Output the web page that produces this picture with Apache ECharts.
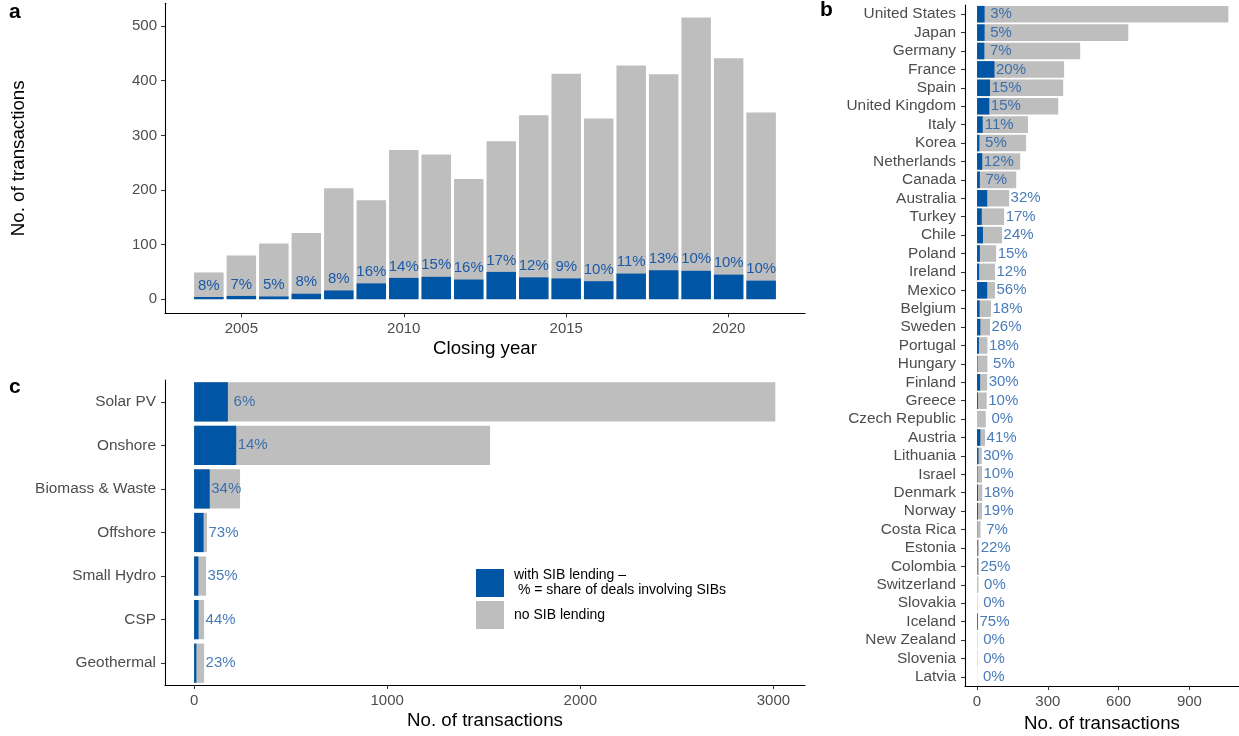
<!DOCTYPE html>
<html>
<head>
<meta charset="utf-8">
<script src="https://cdn.jsdelivr.net/npm/echarts@6/dist/echarts.min.js"></script>
<style>
html,body{margin:0;padding:0;background:#fff}
#main{width:1239px;height:736px}
</style>
</head>
<body>
<div id="main"></div>
<script>
// panel a - transactions per closing year
var years = [2004,2005,2006,2007,2008,2009,2010,2011,2012,2013,2014,2015,2016,2017,2018,2019,2020,2021];
var yearTotal = [49,80,102,121,203,181,273,265,220,289,337,413,331,428,412,516,441,342];
var yearSib = [4,6,5,10,16,29,39,41,36,50,40,38,33,47,53,52,45,34];
var yearPct = [8,7,5,8,8,16,14,15,16,17,12,9,10,11,13,10,10,10];
var yearTicks = [2005,2010,2015,2020];
var yearCountTicks = [0,100,200,300,400,500];

// panel b - by country
var countries = ['United States','Japan','Germany','France','Spain','United Kingdom','Italy','Korea','Netherlands','Canada',
	'Australia','Turkey','Chile','Poland','Ireland','Mexico','Belgium','Sweden','Portugal','Hungary','Finland','Greece',
	'Czech Republic','Austria','Lithuania','Israel','Denmark','Norway','Costa Rica','Estonia','Colombia','Switzerland',
	'Slovakia','Iceland','New Zealand','Slovenia','Latvia'];
var countryTotal = [1065,641,437,369,365,344,216,208,183,166,136,115,106,81,76,76,59,55,44,44,43,41,37,34,20,21,22,21,15,9,8,6,2,4,2,2,1];
var countrySib = [32,32,31,74,55,52,24,10,22,12,43,20,25,12,9,43,11,14,8,2,13,4,0,14,6,2,4,4,1,2,2,0,0,3,0,0,0];
var countryPct = [3,5,7,20,15,15,11,5,12,7,32,17,24,15,12,56,18,26,18,5,30,10,0,41,30,10,18,19,7,22,25,0,0,75,0,0,0];
var countryTicks = [0,300,600,900];

// panel c - by technology
var techs = ['Solar PV','Onshore','Biomass & Waste','Offshore','Small Hydro','CSP','Geothermal'];
var techTotal = [3010,1533,238,67,62,52,52];
var techSib = [175,218,81,49,22,23,12];
var techPct = [6,14,34,73,35,44,23];
var techTicks = [0,1000,2000,3000];

var SIB = 'with SIB lending \u2013\n % = share of deals involving SIBs';
var NOSIB = 'no SIB lending';
var BLUE = '#0055a5', GREY = '#bebebe', TXTBLUE = '#1a5aa8', AXGREY = '#4d4d4d';
var FONT = '"Liberation Sans", Arial, Helvetica, sans-serif';

// label sits after the blue part when the bar is long, otherwise after the whole bar
function labelAnchor(total, sib){
	return total >= 150 ? sib : total;
}

function plain(v){ return String(v); }

function valAxis(grid, min, max, ticks, extra){
	var ax = {
		gridIndex: grid,
		type: 'value',
		min: min,
		max: max,
		splitLine: {show: false},
		axisLine: {show: true, onZero: false, lineStyle: {color: '#000', width: 1.1}},
		axisTick: {show: true, length: 4, customValues: ticks, lineStyle: {color: '#333'}},
		axisLabel: {customValues: ticks, formatter: plain, color: AXGREY, fontSize: 15, fontFamily: FONT}
	};
	for (var k in extra) ax[k] = extra[k];
	return ax;
}

function catAxis(grid, cats){
	return {
		gridIndex: grid,
		type: 'category',
		inverse: true,
		data: cats,
		axisLine: {show: true, onZero: false, lineStyle: {color: '#000', width: 1.1}},
		axisTick: {show: true, length: 4, alignWithLabel: true, lineStyle: {color: '#333'}},
		axisLabel: {color: AXGREY, fontSize: 15.4, fontFamily: FONT, margin: 9, interval: 0},
		splitLine: {show: false}
	};
}

var titleStyle = {color: '#000', fontSize: 18.7, fontFamily: FONT};

var pctLabel = {show: true, color: TXTBLUE, fontSize: 15, fontFamily: FONT};

var myChart = echarts.init(document.getElementById('main'));

option = {
	animation: false,
	textStyle: {fontFamily: FONT},
	grid: [
		{left: 165, top: 3.3, width: 640, height: 310, outerBoundsMode: 'none'},
		{left: 965, top: 5, right: 0, height: 681, outerBoundsMode: 'none'},
		{left: 165, top: 380, width: 640, height: 305, outerBoundsMode: 'none'}
	],
	legend: {
		data: [SIB, NOSIB],
		orient: 'vertical',
		left: 471,
		top: 562,
		icon: 'rect',
		itemWidth: 28,
		itemHeight: 28,
		itemGap: 2,
		selectedMode: false,
		textStyle: {fontSize: 14, color: '#000', lineHeight: 15, fontFamily: FONT, padding: [2, 0, 0, 5]}
	},
	graphic: [
		{type: 'text', left: 9, top: 2, style: {text: 'a', font: 'bold 21px ' + FONT, fill: '#000'}},
		{type: 'text', left: 820, top: 0, style: {text: 'b', font: 'bold 21px ' + FONT, fill: '#000'}},
		{type: 'text', left: 9, top: 377, style: {text: 'c', font: 'bold 21px ' + FONT, fill: '#000'}}
	],
	xAxis: [
		valAxis(0, 2002.65, 2022.35, yearTicks, {
			name: 'Closing year', nameLocation: 'middle', nameGap: 26, nameTextStyle: titleStyle
		}),
		valAxis(1, -51, 1110, countryTicks, {
			name: 'No. of transactions', nameLocation: 'middle', nameGap: 26, nameTextStyle: titleStyle
		}),
		valAxis(2, -150.65, 3163.65, techTicks, {
			name: 'No. of transactions', nameLocation: 'middle', nameGap: 26, nameTextStyle: titleStyle
		})
	],
	yAxis: [
		valAxis(0, -25.8, 541.8, yearCountTicks, {
			name: 'No. of transactions', nameLocation: 'middle', nameRotate: 90, nameGap: 137, nameTextStyle: titleStyle
		}),
		catAxis(1, countries),
		catAxis(2, techs)
	],
	// grey = all deals, blue = deals with SIB lending drawn over it
	series: [
		{
			name: NOSIB,
			type: 'bar',
			xAxisIndex: 0,
			yAxisIndex: 0,
			barWidth: 29.5,
			barGap: '-100%',
			z: 2,
			itemStyle: {color: GREY},
			data: years.map(function(y, i){ return [y, yearTotal[i]]; })
		},
		{
			name: SIB,
			type: 'bar',
			xAxisIndex: 0,
			yAxisIndex: 0,
			barWidth: 29.5,
			barGap: '-100%',
			z: 3,
			itemStyle: {color: BLUE},
			label: Object.assign({}, pctLabel, {
				position: 'top',
				distance: 4,
				formatter: function(p){ return yearPct[p.dataIndex] + '%'; }
			}),
			data: years.map(function(y, i){ return [y, yearSib[i]]; })
		},
		{
			name: NOSIB,
			type: 'bar',
			xAxisIndex: 1,
			yAxisIndex: 1,
			barWidth: '90%',
			barGap: '-100%',
			z: 2,
			itemStyle: {color: GREY},
			data: countryTotal
		},
		{
			name: SIB,
			type: 'bar',
			xAxisIndex: 1,
			yAxisIndex: 1,
			barWidth: '90%',
			barGap: '-100%',
			z: 3,
			itemStyle: {color: BLUE},
			data: countrySib
		},
		{
			name: 'country labels',
			type: 'scatter',
			xAxisIndex: 1,
			yAxisIndex: 1,
			symbolSize: 0.1,
			z: 5,
			itemStyle: {color: 'transparent'},
			label: Object.assign({}, pctLabel, {
				position: 'inside',
				offset: [16.5, 0],
				formatter: function(p){ return countryPct[p.dataIndex] + '%'; }
			}),
			data: countries.map(function(c, i){ return [labelAnchor(countryTotal[i], countrySib[i]), i]; })
		},
		{
			name: NOSIB,
			type: 'bar',
			xAxisIndex: 2,
			yAxisIndex: 2,
			barWidth: '90%',
			barGap: '-100%',
			z: 2,
			itemStyle: {color: GREY},
			data: techTotal
		},
		{
			name: SIB,
			type: 'bar',
			xAxisIndex: 2,
			yAxisIndex: 2,
			barWidth: '90%',
			barGap: '-100%',
			z: 3,
			itemStyle: {color: BLUE},
			data: techSib
		},
		{
			name: 'tech labels',
			type: 'scatter',
			xAxisIndex: 2,
			yAxisIndex: 2,
			symbolSize: 0.1,
			z: 5,
			itemStyle: {color: 'transparent'},
			label: Object.assign({}, pctLabel, {
				position: 'inside',
				offset: [16.5, 0],
				formatter: function(p){ return techPct[p.dataIndex] + '%'; }
			}),
			data: techs.map(function(t, i){ return [labelAnchor(techTotal[i], techSib[i]), i]; })
		}
	]
};

myChart.setOption(option);
</script>
</body>
</html>
